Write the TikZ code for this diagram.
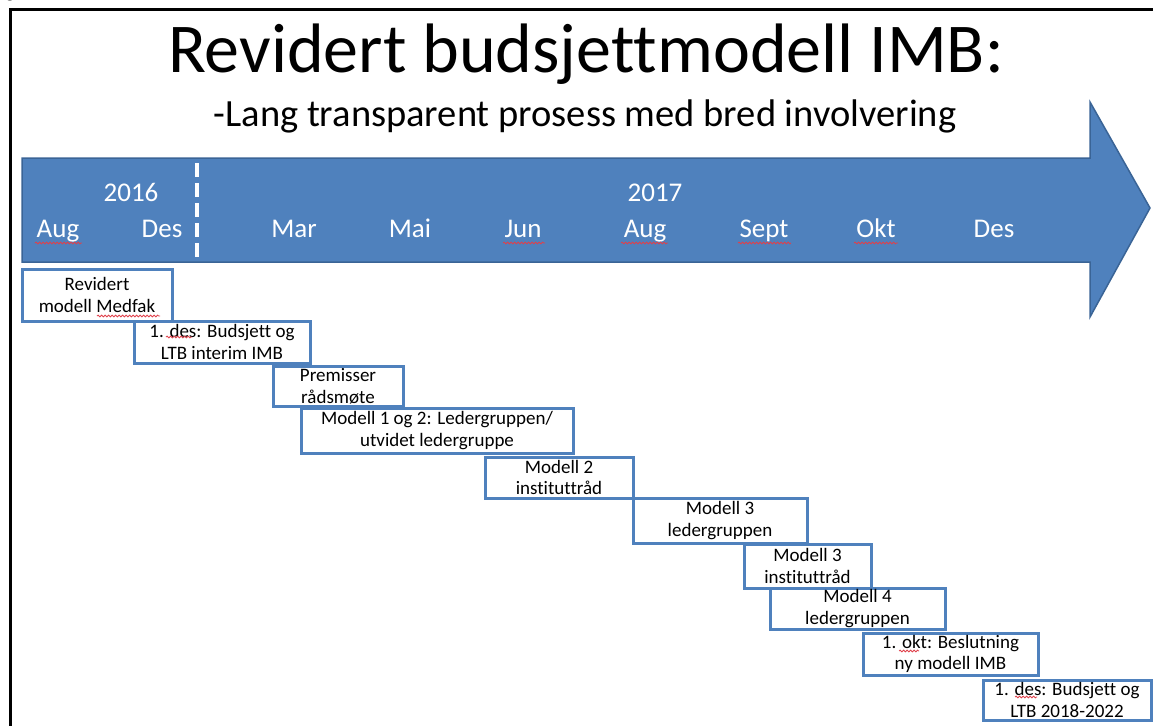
\documentclass[tikz,border=0pt]{standalone}
\usepackage{fontspec}
\setmainfont[Ligatures={NoCommon}]{Carlito}
\usetikzlibrary{decorations.pathmorphing}
\definecolor{arrowfill}{HTML}{4F81BD}
\definecolor{arrowline}{HTML}{3A6496}
\definecolor{boxline}{HTML}{4F81BD}
\definecolor{spellred}{HTML}{E0404A}
\tikzset{
  stepbox/.style={draw=boxline, line width=3pt, fill=white, inner sep=0pt, align=center,
    font=\fontsize{19}{21.5}\selectfont, text=black},
  monthlbl/.style={text=white, anchor=base, inner sep=0pt, font=\fontsize{27}{30}\selectfont},
  squiggle/.style={draw=spellred, line width=0.8pt,
    decorate, decoration={snake, amplitude=0.9pt, segment length=3.5pt}},
}
\begin{document}
\begin{tikzpicture}[x=1pt,y=-1pt]
\useasboundingbox (0,0) rectangle (1153,725);
% cut-off glyph at top left
\begin{scope}
\clip (0,0) rectangle (40,4);
\node[anchor=base, inner sep=0pt, font=\fontsize{20}{22}\selectfont] (gfrag) at (10,-2) {g};
\end{scope}
% frame
\draw[black, line width=3pt] (10,740) -- (10,10) -- (1170,10);
% title
\node[anchor=base, inner sep=0pt, font=\fontsize{70}{73}\selectfont] (title) at (586,72) {Revidert budsjettmodell IMB:};
\node[anchor=base, inner sep=0pt, font=\fontsize{38.5}{41}\selectfont] (subtitle) at (585,126) {-Lang transparent prosess med bred involvering};
% timeline arrow
\draw[fill=arrowfill, draw=arrowline, line width=1.5pt, line join=miter]
  (22,158) -- (1090,158) -- (1090,102) -- (1150,208) -- (1090,317) -- (1090,262) -- (22,262) -- cycle;
\coordinate (dtop) at (197,163);
\coordinate (dbot) at (197,262);
\draw[white, line width=3.5pt, dash pattern=on 14pt off 6pt] (dtop) -- (dbot);
% years and months
\node[monthlbl] (y16) at (131,201) {2016};
\node[monthlbl] (y17) at (655,201) {2017};
\node[monthlbl] (m1) at (58,237) {Aug};
\node[monthlbl] (m2) at (162,237) {Des};
\node[monthlbl] (m3) at (294,237) {Mar};
\node[monthlbl] (m4) at (410,237) {Mai};
\node[monthlbl] (m5) at (523,237) {Jun};
\node[monthlbl] (m6) at (645,237) {Aug};
\node[monthlbl] (m7) at (764,237) {Sept};
\node[monthlbl] (m8) at (876,237) {Okt};
\node[monthlbl] (m9) at (994,237) {Des};
\path[squiggle] (35,243) -- (82,243);
\path[squiggle] (503,243) -- (545,243);
\path[squiggle] (621,243) -- (668,243);
\path[squiggle] (738,243) -- (791,243);
\path[squiggle] (854,243) -- (898,243);
% steps
\node[stepbox, minimum width=150pt, minimum height=52pt] (b1) at (97,295) {Revidert\\modell Medfak};
\node[stepbox, minimum width=176pt, minimum height=42pt] (b2) at (222,342) {1. des: Budsjett og\\LTB interim IMB};
\node[stepbox, minimum width=130pt, minimum height=40pt] (b3) at (338,386.5) {Premisser\\rådsmøte};
\node[stepbox, minimum width=272pt, minimum height=45pt] (b4) at (437,430.5) {Modell 1 og 2: Ledergruppen/\\utvidet ledergruppe};
\node[stepbox, minimum width=148pt, minimum height=41pt] (b5) at (559,477.5) {Modell 2\\instituttråd};
\node[stepbox, minimum width=174pt, minimum height=45pt] (b6) at (720,520.5) {Modell 3\\ledergruppen};
\node[stepbox, minimum width=127pt, minimum height=44pt] (b7) at (807.5,566) {Modell 3\\instituttråd};
\node[stepbox, minimum width=175pt, minimum height=41pt] (b8) at (857.5,608.5) {Modell 4\\ledergruppen};
\node[stepbox, minimum width=175pt, minimum height=42pt] (b9) at (950.5,654) {1. okt: Beslutning\\ny modell IMB};
\node[stepbox, minimum width=168pt, minimum height=40pt] (b10) at (1067,700) {1. des: Budsjett og\\LTB 2018-2022};
\path[squiggle] (97,316) -- (160,316);
\path[squiggle] (166,337) -- (192,337);
\path[squiggle] (899,651) -- (919,651);
\path[squiggle] (1015,697) -- (1037,697);
\end{tikzpicture}
\end{document}
